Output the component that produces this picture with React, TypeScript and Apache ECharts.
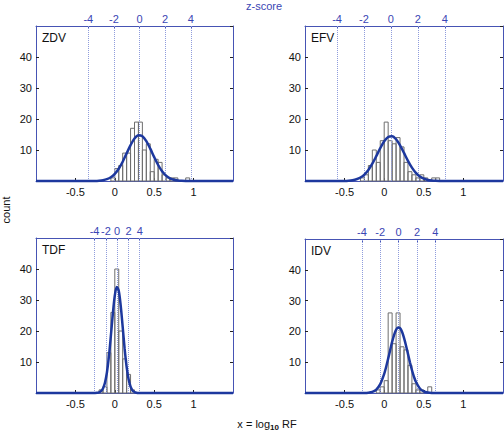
import React, { useEffect, useRef } from "react";
import * as echarts from "echarts";

// ---------- data ----------
const panelNames = ["ZDV", "EFV", "TDF", "IDV"];
const X_MIN = -1;
const X_MAX = 1.5;
const BIN_WIDTH = 0.05;
const zTicks = [-4, -2, 0, 2, 4];
// fitted normal: mean and sd in log10 RF units (defines the z-score axis)
const fitMean = [0.314, 0.085, 0.03, 0.182];
const fitSd = [0.1625, 0.17, 0.0716, 0.116];

const zdvBinCenters = [-0.025, 0.025, 0.075, 0.125, 0.175, 0.225, 0.275, 0.325, 0.375, 0.425, 0.475, 0.525, 0.575, 0.625, 0.675, 0.725, 0.775, 0.925];
const zdvCounts = [1, 4, 5, 9, 9, 17, 19, 19, 10, 12, 3, 7, 6, 2, 1, 1, 1, 1];
const efvBinCenters = [-0.275, -0.225, -0.175, -0.125, -0.075, -0.025, 0.025, 0.075, 0.125, 0.175, 0.225, 0.275, 0.325, 0.375, 0.425, 0.475, 0.525, 0.625, 0.675];
const efvCounts = [1, 2, 5, 10, 6, 13, 19, 13, 12, 14, 11, 6, 3, 2, 1, 2, 1, 1, 1];
const tdfBinCenters = [-0.175, -0.125, -0.075, -0.025, 0.025, 0.075, 0.125, 0.175, 0.225];
const tdfCounts = [1, 2, 13, 26, 40, 20, 11, 6, 1];
const idvBinCenters = [-0.075, -0.025, 0.025, 0.075, 0.125, 0.175, 0.225, 0.275, 0.325, 0.375, 0.425, 0.475, 0.575];
const idvCounts = [1, 2, 4, 26, 16, 26, 15, 14, 9, 3, 1, 1, 2];

const zdvCurveX = [-1, -0.25, -0.2, -0.15, -0.1, -0.05, 0, 0.05, 0.1, 0.15, 0.2, 0.25, 0.3, 0.35, 0.4, 0.45, 0.5, 0.55, 0.6, 0.65, 0.7, 0.75, 0.8, 0.85, 0.9, 1.5];
const zdvCurveY = [0, 0.04, 0.1, 0.25, 0.58, 1.2, 2.29, 3.95, 6.22, 8.9, 11.57, 13.7, 14.75, 14.44, 12.87, 10.43, 7.69, 5.16, 3.14, 1.74, 0.88, 0.4, 0.17, 0.06, 0.02, 0];
const efvCurveX = [-1, -0.5, -0.45, -0.4, -0.35, -0.3, -0.25, -0.2, -0.15, -0.1, -0.05, 0, 0.05, 0.1, 0.15, 0.2, 0.25, 0.3, 0.35, 0.4, 0.45, 0.5, 0.55, 0.6, 0.65, 0.7, 1.5];
const efvCurveY = [0, 0.04, 0.1, 0.25, 0.55, 1.12, 2.08, 3.56, 5.58, 8.02, 10.58, 12.8, 14.2, 14.44, 13.48, 11.53, 9.06, 6.51, 4.3, 2.6, 1.45, 0.74, 0.34, 0.15, 0.06, 0.02, 0];
const tdfCurveX = [-1, -0.25, -0.225, -0.2, -0.175, -0.15, -0.125, -0.1, -0.075, -0.05, -0.025, 0, 0.025, 0.05, 0.075, 0.1, 0.125, 0.15, 0.175, 0.2, 0.225, 0.25, 0.275, 0.3, 1.5];
const tdfCurveY = [0, 0.02, 0.06, 0.2, 0.57, 1.45, 3.3, 6.6, 11.7, 18.4, 25.5, 31.4, 34.2, 33.0, 28.2, 21.3, 14.2, 8.4, 4.4, 2.05, 0.84, 0.31, 0.1, 0.03, 0];
const idvCurveX = [-1, -0.25, -0.2, -0.15, -0.1, -0.05, 0, 0.025, 0.05, 0.075, 0.1, 0.125, 0.15, 0.175, 0.2, 0.225, 0.25, 0.275, 0.3, 0.325, 0.35, 0.375, 0.4, 0.45, 0.5, 0.55, 0.6, 1.5];
const idvCurveY = [0, 0.02, 0.09, 0.35, 1.11, 2.88, 6.22, 8.52, 11.15, 13.9, 16.6, 18.9, 20.5, 21.26, 21.05, 19.9, 17.9, 15.44, 12.7, 9.96, 7.46, 5.34, 3.64, 1.48, 0.5, 0.14, 0.03, 0];

const binCenters = [zdvBinCenters, efvBinCenters, tdfBinCenters, idvBinCenters];
const binCounts = [zdvCounts, efvCounts, tdfCounts, idvCounts];
const curveXs = [zdvCurveX, efvCurveX, tdfCurveX, idvCurveX];
const curveYs = [zdvCurveY, efvCurveY, tdfCurveY, idvCurveY];

// ---------- layout / style ----------
const FONT = "'Liberation Sans', Arial, Helvetica, sans-serif";
const BLUE_TEXT = "#3a46b4";
const FRAME_BLUE = "#4654b4";
const CURVE_BLUE = "#1d389e";
const DOT_BLUE = "#8f9cdc";
const grids = [
  { left: 36, top: 26, width: 197, height: 155 },
  { left: 305, top: 26, width: 198, height: 155 },
  { left: 36, top: 238, width: 197, height: 155 },
  { left: 305, top: 239, width: 198, height: 154 },
];

function buildOption() {
  const xAxis: any[] = [];
  const yAxis: any[] = [];
  const series: any[] = [];
  const graphic: any[] = [];

  grids.forEach((g, i) => {
    xAxis.push({
      gridIndex: i,
      type: "value",
      position: "bottom",
      min: X_MIN,
      max: X_MAX,
      interval: 0.5,
      axisLine: { show: true, onZero: false, lineStyle: { color: FRAME_BLUE, width: 1 } },
      axisTick: { show: true, inside: true, length: 3, lineStyle: { color: "#222" } },
      axisLabel: { showMinLabel: false, showMaxLabel: false, margin: 5, color: "#111", fontSize: 11, fontFamily: FONT },
      splitLine: { show: false },
    });
    xAxis.push({
      gridIndex: i,
      type: "value",
      position: "top",
      min: (X_MIN - fitMean[i]) / fitSd[i],
      max: (X_MAX - fitMean[i]) / fitSd[i],
      axisLine: { show: true, onZero: false, lineStyle: { color: FRAME_BLUE, width: 1 } },
      axisTick: { show: true, inside: true, length: 3, customValues: zTicks, lineStyle: { color: FRAME_BLUE } },
      axisLabel: { customValues: zTicks, margin: 2, color: BLUE_TEXT, fontSize: 11, fontFamily: FONT },
      splitLine: { show: false },
    });
    yAxis.push({
      gridIndex: i,
      type: "value",
      position: "left",
      min: 0,
      max: 50,
      interval: 10,
      axisLine: { show: true, onZero: false, lineStyle: { color: FRAME_BLUE, width: 1 } },
      axisTick: { show: true, inside: true, length: 3, lineStyle: { color: "#222" } },
      axisLabel: { showMinLabel: false, showMaxLabel: false, margin: 4, color: "#111", fontSize: 11, fontFamily: FONT },
      splitLine: { show: false },
    });
    yAxis.push({
      gridIndex: i,
      type: "value",
      position: "right",
      min: 0,
      max: 50,
      interval: 10,
      axisLine: { show: true, onZero: false, lineStyle: { color: FRAME_BLUE, width: 1 } },
      axisTick: { show: true, inside: true, length: 3, lineStyle: { color: "#222" } },
      axisLabel: { show: false },
      splitLine: { show: false },
    });

    // z-score dotted guide lines
    series.push({
      type: "line",
      xAxisIndex: 2 * i + 1,
      yAxisIndex: 2 * i,
      data: [],
      symbol: "none",
      silent: true,
      z: 1,
      markLine: {
        silent: true,
        symbol: ["none", "none"],
        label: { show: false },
        lineStyle: { type: "dotted", color: DOT_BLUE, width: 1 },
        data: zTicks.map((z) => ({ xAxis: z })),
      },
    });

    // histogram
    series.push({
      type: "custom",
      xAxisIndex: 2 * i,
      yAxisIndex: 2 * i,
      silent: true,
      z: 2,
      data: binCenters[i].map((c, j) => [c, binCounts[i][j]]),
      renderItem: (params: any, api: any) => {
        const c = api.value(0);
        const n = api.value(1);
        const p0 = api.coord([c - BIN_WIDTH / 2, n]);
        const p1 = api.coord([c + BIN_WIDTH / 2, 0]);
        return {
          type: "rect",
          shape: { x: p0[0], y: p0[1], width: p1[0] - p0[0], height: p1[1] - p0[1] },
          style: { fill: "rgba(255,255,255,0)", stroke: "#6e6e6e", lineWidth: 1 },
        };
      },
    });

    // fitted normal curve
    series.push({
      type: "line",
      xAxisIndex: 2 * i,
      yAxisIndex: 2 * i,
      data: curveXs[i].map((x, j) => [x, curveYs[i][j]]),
      symbol: "none",
      showSymbol: false,
      smooth: 0.3,
      clip: false,
      silent: true,
      z: 5,
      lineStyle: { color: CURVE_BLUE, width: 2.5 },
    });

    graphic.push({
      type: "text",
      x: g.left + 6,
      y: g.top + 12,
      style: { text: panelNames[i], fill: "#111", font: `12px ${FONT}`, textVerticalAlign: "middle", textAlign: "left" },
    });
  });

  graphic.push({
    type: "text",
    x: 264,
    y: 6,
    style: { text: "z-score", fill: BLUE_TEXT, font: `11px ${FONT}`, textAlign: "center", textVerticalAlign: "middle" },
  });
  graphic.push({
    type: "text",
    x: 6,
    y: 210,
    rotation: Math.PI / 2,
    style: { text: "count", fill: "#111", font: `11px ${FONT}`, textAlign: "center", textVerticalAlign: "middle" },
  });
  graphic.push({
    type: "text",
    x: 267,
    y: 424,
    style: {
      text: "x = log{s|10} RF",
      fill: "#111",
      font: `11px ${FONT}`,
      textAlign: "center",
      textVerticalAlign: "middle",
      rich: {
        s: { fontSize: 8, fontWeight: "bold", fontFamily: FONT, fill: "#111", padding: [7, 0, 0, 0] },
      },
    },
  });

  return {
    animation: false,
    backgroundColor: "#ffffff",
    grid: grids.map((g) => ({ ...g, containLabel: false, show: false })),
    xAxis,
    yAxis,
    series,
    graphic,
  };
}

export default function App() {
  const ref = useRef<HTMLDivElement>(null);
  useEffect(() => {
    if (!ref.current) return;
    const chart = echarts.init(ref.current, undefined, { renderer: "svg" });
    chart.setOption(buildOption() as any);
    return () => chart.dispose();
  }, []);
  return (
    <div
      ref={ref}
      style={{ position: "fixed", left: 0, top: 0, width: 504, height: 435, background: "#fff" }}
    />
  );
}
